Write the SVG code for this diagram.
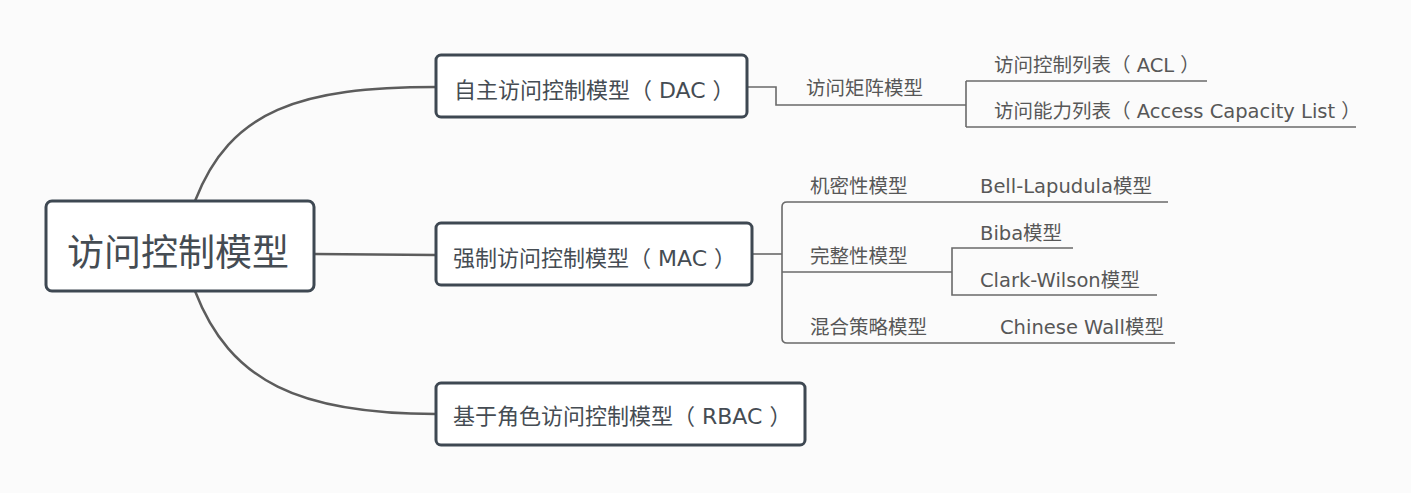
<svg xmlns="http://www.w3.org/2000/svg" width="1411" height="493" viewBox="0 0 1411 493">
<style>
.bg{fill:#fbfbfb}
.box{fill:#ffffff;stroke:#3e4852;stroke-width:3}
.main{stroke:#5c5c5c;stroke-width:2.5;fill:none}
.sub{stroke:#6a6a6a;stroke-width:1.6;fill:none}
text{font-family:"DejaVu Sans","Noto Sans CJK SC",sans-serif;fill:#454c53}
.t1{font-size:37px}
.t2{font-size:22px}
.t3{font-size:19.5px;fill:#575757}
</style>
<rect class="bg" x="0" y="0" width="1411" height="493"/>
<g id="connectors">
<path class="main" d="M195,201 C230,110 300,87 436,87"/>
<path class="main" d="M314,254 L436,255"/>
<path class="main" d="M195,291 C230,382 300,414 436,414"/>
<path class="sub" d="M747,87 H776 V105 H966"/>
<path class="sub" d="M966,81 V127"/>
<path class="sub" d="M966,81 H1207"/>
<path class="sub" d="M966,127 H1356"/>
<path class="sub" d="M752,254 H782"/>
<path class="sub" d="M1168,202 H787 Q782,202 782,207 V338 Q782,343 787,343 H1175"/>
<path class="sub" d="M782,272 H952"/>
<path class="sub" d="M1073,248 H952 V295 H1157"/>
</g>
<g id="root">
<rect class="box" x="46" y="201" width="268" height="90" rx="6"/>
<text class="t1" x="67" y="266">访问控制模型</text>
</g>
<g id="dac">
<rect class="box" x="436" y="55" width="311" height="62" rx="5"/>
<text class="t2" x="454" y="98">自主访问控制模型（ DAC ）</text>
</g>
<g id="mac">
<rect class="box" x="436" y="223" width="316" height="62" rx="5"/>
<text class="t2" x="453" y="266">强制访问控制模型（ MAC ）</text>
</g>
<g id="rbac">
<rect class="box" x="436" y="383" width="369" height="62" rx="5"/>
<text class="t2" x="453" y="424">基于角色访问控制模型（ RBAC ）</text>
</g>
<g id="matrix"><text class="t3" x="806" y="95">访问矩阵模型</text></g>
<g id="acl"><text class="t3" x="994" y="72">访问控制列表（ ACL ）</text></g>
<g id="capacity"><text class="t3" x="994" y="118">访问能力列表（ Access Capacity List ）</text></g>
<g id="conf"><text class="t3" x="810" y="193">机密性模型</text></g>
<g id="bell"><text class="t3" x="980" y="193">Bell-Lapudula模型</text></g>
<g id="integ"><text class="t3" x="810" y="263">完整性模型</text></g>
<g id="biba"><text class="t3" x="980" y="240">Biba模型</text></g>
<g id="clark"><text class="t3" x="980" y="287">Clark-Wilson模型</text></g>
<g id="hybrid"><text class="t3" x="810" y="334">混合策略模型</text></g>
<g id="wall"><text class="t3" x="1000" y="334">Chinese Wall模型</text></g>
</svg>
